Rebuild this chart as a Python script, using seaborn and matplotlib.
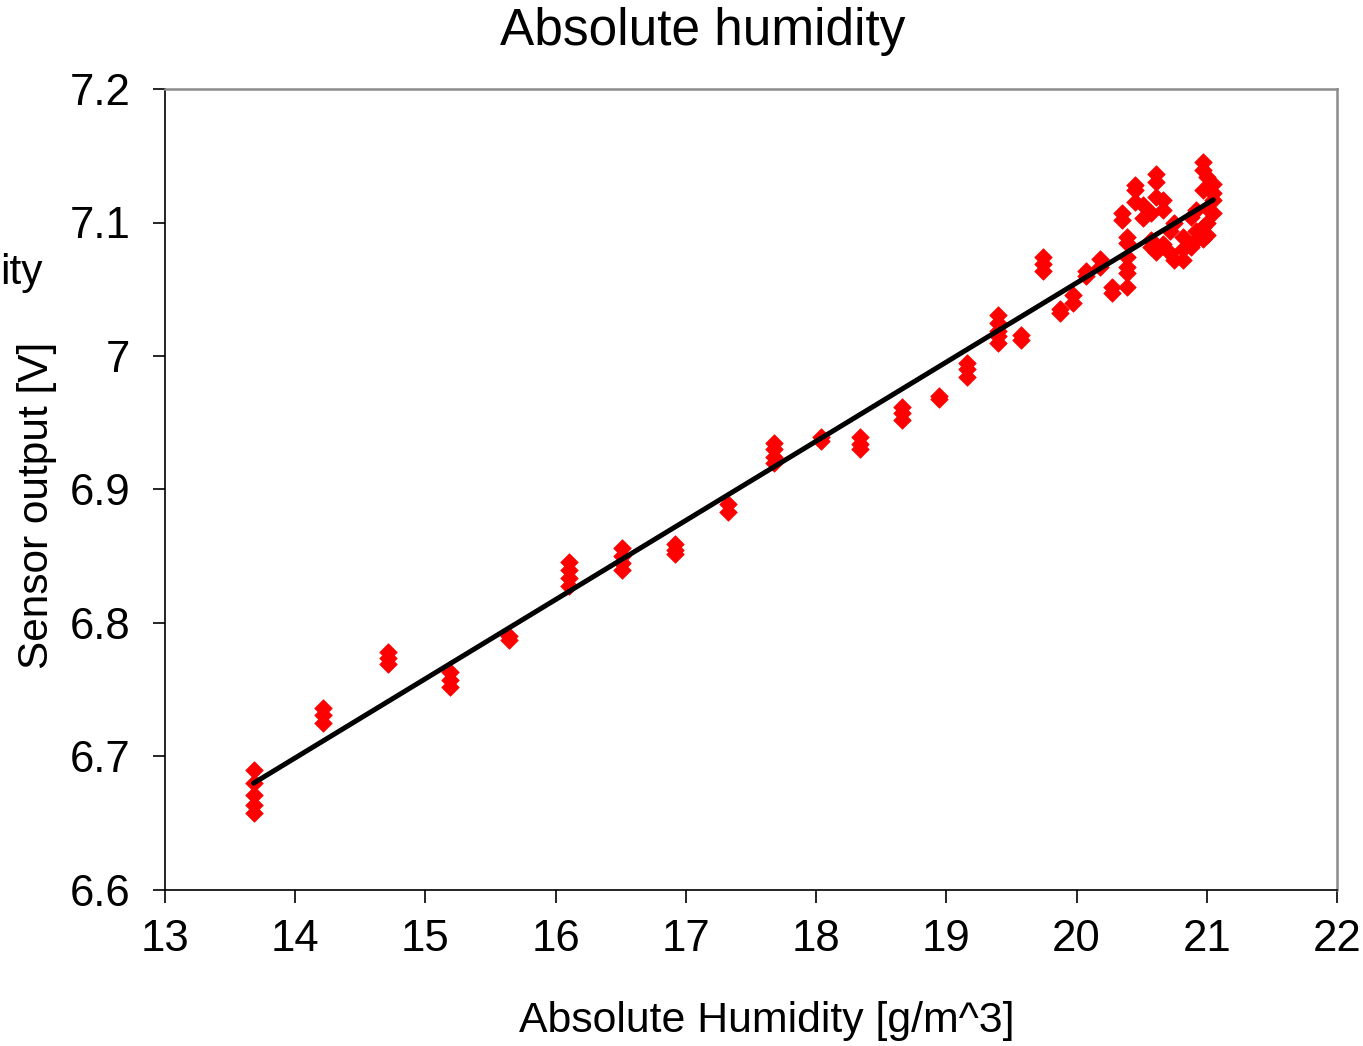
import matplotlib
matplotlib.use("Agg")
import matplotlib.pyplot as plt
import seaborn as sns
import numpy as np
import pandas as pd

# ---- data ----
hum = [13.68]*5 + [14.21]*3 + [14.71]*3 + [15.19]*3 + [15.64]*2 + [16.10]*4 + [16.51]*4 \
    + [16.92]*3 + [17.32]*2 + [17.68]*4 + [18.04]*2 + [18.34]*3 + [18.66]*3 + [18.94]*2 \
    + [19.16]*3 + [19.40]*5 + [19.57]*2 + [19.74]*3 + [19.87]*2 + [19.97]*2 + [20.07]*2 \
    + [20.18]*2 + [20.27]*2 + [20.35]*2 + [20.39]*6 + [20.45]*3 + [20.51]*2 + [20.57]*3 \
    + [20.61]*4 + [20.66]*3 + [20.72]*2 + [20.75]*2 + [20.82]*3 + [20.88]*2 + [20.92]*3 \
    + [20.97]*5 + [21.00]*4 + [21.05]*4
volt = [6.690, 6.680, 6.671, 6.664, 6.658,
        6.736, 6.731, 6.725,
        6.778, 6.774, 6.769,
        6.763, 6.757, 6.752,
        6.790, 6.787,
        6.846, 6.840, 6.834, 6.828,
        6.856, 6.850, 6.845, 6.840,
        6.859, 6.855, 6.852,
        6.889, 6.883,
        6.935, 6.930, 6.924, 6.920,
        6.939, 6.936,
        6.939, 6.934, 6.930,
        6.962, 6.957, 6.952,
        6.970, 6.968,
        6.995, 6.990, 6.984,
        7.031, 7.025, 7.019, 7.015, 7.010,
        7.016, 7.012,
        7.074, 7.069, 7.064,
        7.035, 7.032,
        7.046, 7.040,
        7.064, 7.060,
        7.073, 7.067,
        7.052, 7.047,
        7.107, 7.102,
        7.089, 7.085, 7.074, 7.067, 7.062, 7.052,
        7.128, 7.124, 7.115,
        7.113, 7.103,
        7.107, 7.087, 7.082,
        7.136, 7.130, 7.119, 7.078,
        7.117, 7.109, 7.084,
        7.077, 7.094,
        7.072, 7.100,
        7.072, 7.089, 7.080,
        7.104, 7.082,
        7.087, 7.094, 7.109,
        7.145, 7.139, 7.097, 7.124, 7.088,
        7.134, 7.111, 7.091, 7.100,
        7.129, 7.122, 7.107, 7.117]

trend_x = [13.68, 21.05]
trend_y = [6.680, 7.117]

x_ticks = [13, 14, 15, 16, 17, 18, 19, 20, 21, 22]
y_ticks = [6.6, 6.7, 6.8, 6.9, 7.0, 7.1, 7.2]
y_tick_labels = ["6.6", "6.7", "6.8", "6.9", "7", "7.1", "7.2"]

title = "Absolute humidity"
x_label = "Absolute Humidity [g/m^3]"
y_label = "Sensor output [V]"
fragment = "ity"

df = pd.DataFrame({"hum": hum, "volt": volt})

sns.set_style("ticks")
plt.rcParams['font.family'] = ['Liberation Sans', 'DejaVu Sans']

W, H = 1363, 1046
fig = plt.figure(figsize=(W/100, H/100), dpi=100)
ax = fig.add_axes([165/W, 1-890/H, (1337-165)/W, (890-89)/H])

sns.scatterplot(data=df, x="hum", y="volt", marker="D", s=80, color="#ff0000",
                edgecolor="#ff0000", linewidth=0.5, ax=ax, zorder=2)
sns.lineplot(x=trend_x, y=trend_y, color="black", linewidth=3.6, ax=ax, zorder=3)

ax.set_xlim(13, 22)
ax.set_ylim(6.6, 7.2)
ax.set_xticks(x_ticks)
ax.set_xticklabels([str(t) for t in x_ticks])
ax.set_yticks(y_ticks)
ax.set_yticklabels(y_tick_labels)
ax.tick_params(axis='both', direction='out', length=9, width=1.2, color='black',
               labelsize=31.5, labelcolor='black')
ax.tick_params(axis='x', pad=12)
ax.tick_params(axis='y', pad=16)
ax.set_xlabel("")
ax.set_ylabel("")

for side in ['left', 'bottom']:
    ax.spines[side].set_color('black')
    ax.spines[side].set_linewidth(1.2)
for side in ['top', 'right']:
    ax.spines[side].set_visible(True)
    ax.spines[side].set_color('#8c8c8c')
    ax.spines[side].set_linewidth(1.8)

fig.text(703/W, 1-32/H, title, ha='center', va='center', fontsize=37, color='black')
fig.text(767/W, 1-1021/H, x_label, ha='center', va='center', fontsize=30.8, color='black')
fig.text(37/W, 1-505/H, y_label, ha='center', va='center', rotation=90, fontsize=30.5, color='black')
fig.text(0.5/W, 1-284/H, fragment, ha='left', va='baseline', fontsize=30.5, color='black')

fig.savefig("out.png", dpi=100, facecolor='white')
